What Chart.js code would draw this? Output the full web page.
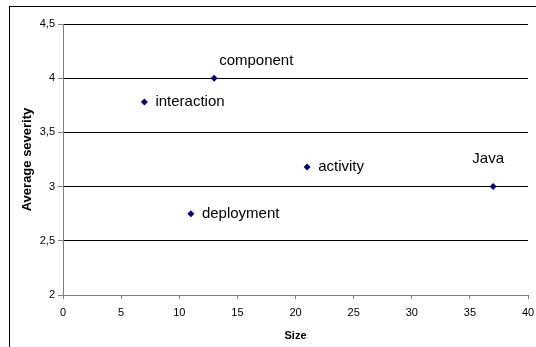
<!DOCTYPE html>
<html>
<head>
<meta charset="utf-8">
<script src="https://cdn.jsdelivr.net/npm/chart.js@4/dist/chart.umd.min.js"></script>
<style>
  html, body { margin: 0; padding: 0; background: #fff; overflow: hidden; }
  #frame { position: absolute; left: 0; top: 0; width: 536px; height: 347px; }
  #border { position: absolute; left: 9px; top: 6px; width: 600px; height: 400px;
            border-left: 1px solid #000; border-top: 1px solid #000; box-sizing: border-box; }
  canvas { position: absolute; left: 0; top: 0; }
</style>
</head>
<body>
<div id="frame">
  <div id="border"></div>
  <canvas id="c" width="536" height="347"></canvas>
</div>
<script>
// Diagram types: size vs. average severity
const diagramNames = ['component', 'interaction', 'activity', 'deployment', 'Java'];
const sizes        = [13, 7, 21, 11, 37];
const severities   = [4.0, 3.78, 3.18, 2.75, 3.0];
const yTicks       = [2, 2.5, 3, 3.5, 4, 4.5];
const xTicks       = [0, 5, 10, 15, 20, 25, 30, 35, 40];

// Where each name sits relative to its marker (default: to the right)
const labelPlacement = {
  component: { dx: 5, dy: -17, align: 'left' },
  Java:      { dx: -5, dy: -28, align: 'center' }
};

const FONT = "'Liberation Sans', Arial, sans-serif";

const pointLabels = {
  id: 'pointLabels',
  afterDatasetsDraw(chart) {
    const ctx = chart.ctx;
    const meta = chart.getDatasetMeta(0);
    ctx.save();
    ctx.font = '15px ' + FONT;
    ctx.fillStyle = '#000';
    ctx.textBaseline = 'middle';
    meta.data.forEach((pt, i) => {
      const name = diagramNames[i];
      const p = labelPlacement[name] || { dx: 11, dy: 0, align: 'left' };
      ctx.textAlign = p.align;
      ctx.fillText(name, pt.x + p.dx, pt.y + p.dy);
    });
    ctx.restore();
  }
};

new Chart(document.getElementById('c'), {
  type: 'scatter',
  data: {
    datasets: [{
      data: sizes.map((s, i) => ({ x: s, y: severities[i] })),
      pointStyle: 'rectRot',
      pointRadius: 3.5,
      backgroundColor: '#000080',
      borderColor: '#000080',
      borderWidth: 0
    }]
  },
  options: {
    responsive: false,
    animation: false,
    devicePixelRatio: 1,
    layout: { padding: { top: 24, right: 8, left: 0, bottom: 0 } },
    plugins: { legend: { display: false }, tooltip: { enabled: false } },
    scales: {
      x: {
        type: 'linear',
        min: 0, max: 40,
        afterBuildTicks(scale) { scale.ticks = xTicks.map(v => ({ value: v })); },
        afterFit(scale) { scale.height = 52; scale.paddingLeft = 0; scale.paddingRight = 0; },
        border: { color: '#808080', width: 1 },
        grid: { drawOnChartArea: false, drawTicks: true, tickLength: 4, tickColor: '#808080' },
        ticks: { color: '#000', font: { family: FONT, size: 11 }, padding: 7 },
        title: { display: true, text: 'Size', color: '#000',
                 font: { family: FONT, size: 11, weight: 'bold' }, padding: { top: 6 } }
      },
      y: {
        type: 'linear',
        min: 2, max: 4.5,
        afterBuildTicks(scale) { scale.ticks = yTicks.map(v => ({ value: v })); },
        afterFit(scale) { scale.width = 63; scale.paddingTop = 0; scale.paddingBottom = 0; },
        border: { color: '#808080', width: 1 },
        grid: {
          color: c => (c.tick && c.tick.value === 2) ? 'rgba(0,0,0,0)' : '#000',
          lineWidth: 1,
          drawTicks: true, tickLength: 5, tickColor: '#808080'
        },
        ticks: {
          color: '#000', font: { family: FONT, size: 11 }, padding: 3,
          callback: v => String(v).replace('.', ',')
        },
        title: { display: true, text: 'Average severity', color: '#000',
                 font: { family: FONT, size: 13, weight: 'bold' }, padding: { top: 20, bottom: 0 } }
      }
    }
  },
  plugins: [pointLabels]
});
</script>
</body>
</html>
